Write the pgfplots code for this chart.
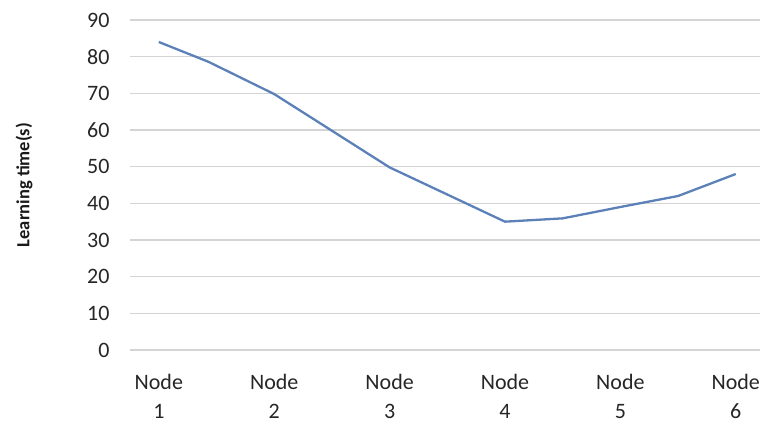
\documentclass[border=0pt]{standalone}
\usepackage{pgfplots}
\pgfplotsset{compat=1.18}
\usetikzlibrary{calc}
\usepackage{fontspec}
\setmainfont{Carlito}
\definecolor{linec}{RGB}{92,129,184}
\definecolor{gridc}{RGB}{212,212,212}
\begin{document}
\begin{tikzpicture}[x=1pt,y=1pt]
\begin{axis}[
  name=a,
  scale only axis,
  width=630pt, height=330pt,
  xmin=0.75, xmax=6.21,
  ymin=0, ymax=90,
  ytick={0,10,...,90},
  xtick={1,2,3,4,5,6},
  xticklabels={Node\\1,Node\\2,Node\\3,Node\\4,Node\\5,Node\\6},
  xticklabel style={align=center, yshift=-21pt, font=\fontsize{22}{29}\selectfont, text=black!85},
  yticklabel style={xshift=-17pt, font=\fontsize{22}{24}\selectfont, text=black!85},
  /pgf/number format/assume math mode=true,
  major tick length=0pt,
  axis line style={draw=none},
  ymajorgrids,
  grid style={gridc, line width=1.4pt},
  ylabel={\textbf{Learning time(s)}},
  ylabel style={at={(axis description cs:-0.168,0.5)}, anchor=center, font=\fontsize{18.5}{20}\selectfont, text=black!90},
  clip=false,
]
\addplot[linec, line width=2.3pt, no marks] coordinates {
  (1,84) (1.43,78.6) (2,69.8) (3,49.8) (4,35) (4.5,35.9) (5,39) (5.5,42) (6,48)
};
\end{axis}
\pgfresetboundingbox
\path ($(a.south west)+(-130,-75)$) rectangle ($(a.south west)+(633,350)$);
\end{tikzpicture}
\end{document}
